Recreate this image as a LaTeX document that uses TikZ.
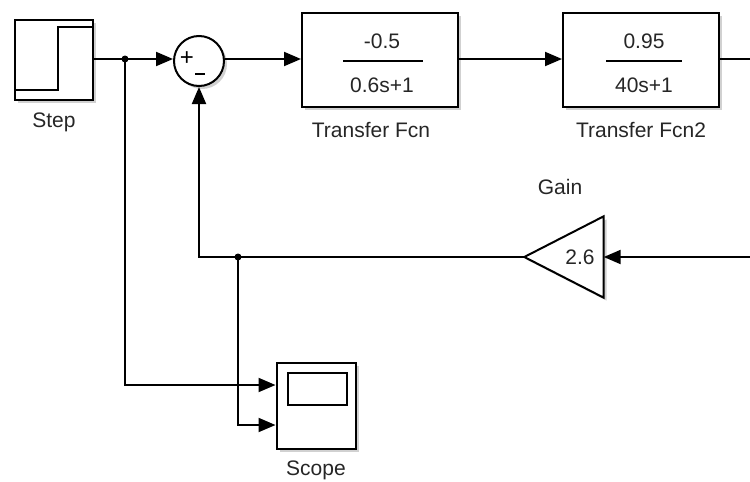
\documentclass[tikz,border=0pt]{standalone}
\usepackage{fontspec}
\setmainfont{Liberation Sans}
\usetikzlibrary{arrows.meta,shadows}
\begin{document}
\begin{tikzpicture}[x=1pt,y=-1pt,
  wire/.style={line width=2pt},
  sig/.style={wire,-{Triangle[length=17pt,width=14pt]}},
  blk/.style={draw,line width=2pt,fill=white,inner sep=0pt,
    drop shadow={shadow xshift=3pt,shadow yshift=-3pt,fill=black!40,opacity=0.45}},
  lbl/.style={font=\fontsize{21}{24}\selectfont,text=black!85},
  dot/.style={circle,fill=black,inner sep=0pt,minimum size=7pt}]
\useasboundingbox (0,0) rectangle (750,482);
% blocks
\node[blk,minimum width=78pt,minimum height=80pt] (step) at (54,60) {};
\draw[line width=2pt] (16,90) -- (58,90) -- (58,27) -- (92,27);
\node[lbl] (steplbl) at (54,122) {Step};
\node[blk,circle,minimum size=50pt] (sum) at (199,61) {};
\node[font=\fontsize{24}{26}\selectfont] (plus) at (187,59) {+};
\draw[line width=1.8pt] (195,74) -- (205,74);
\node[blk,minimum width=156pt,minimum height=94pt] (tf1) at (380,60) {};
\node[lbl] (tf1n) at (382,41) {-0.5};
\draw[line width=1.6pt] (343,61) -- (423,61);
\node[lbl] (tf1d) at (382,85) {0.6s+1};
\node[lbl] (tf1lbl) at (371,130) {Transfer Fcn};
\node[blk,minimum width=156pt,minimum height=94pt] (tf2) at (641,60) {};
\node[lbl] (tf2n) at (644,41) {0.95};
\draw[line width=1.6pt] (606,61) -- (682,61);
\node[lbl] (tf2d) at (644,85) {40s+1};
\node[lbl] (tf2lbl) at (641,130) {Transfer Fcn2};
\node[minimum width=79pt,minimum height=81pt,inner sep=0pt] (gain) at (564,257) {};
\draw[line width=2pt,fill=white,drop shadow={shadow xshift=3pt,shadow yshift=-3pt,fill=black!40,opacity=0.45}]
  (gain.north east) -- (gain.west) -- (gain.south east) -- cycle;
\node[lbl] (gainval) at (580,257) {2.6};
\node[lbl] (gainlbl) at (560,187) {Gain};
\node[blk,minimum width=79pt,minimum height=86pt] (scope) at (316,406) {};
\draw[line width=2pt] (288,373) rectangle (347,405);
\node[lbl] (scopelbl) at (316,470) {Scope};
% coordinates
\coordinate (b1) at (125,59);
\coordinate (b2) at (238,257);
\coordinate (r1) at (752,59);
\coordinate (r2) at (752,257);
\coordinate (sc1) at (scope.west |- 0,385);
\coordinate (sc2) at (scope.west |- 0,425);
% connectors
\draw[sig] (step.east |- b1) -- (sum.west |- b1);
\draw[sig] (sum.east |- b1) -- (tf1.west |- b1);
\draw[sig] (tf1.east |- b1) -- (tf2.west |- b1);
\draw[wire] (tf2.east |- b1) -- (r1);
\draw[sig] (r2) -- (gain.east);
\draw[sig] (gain.west) -- (sum.south |- b2) -- (sum.south);
\draw[sig] (b1) -- (b1 |- sc1) -- (sc1);
\draw[sig] (b2) -- (b2 |- sc2) -- (sc2);
\node[dot] (d1) at (b1) {};
\node[dot] (d2) at (b2) {};
\end{tikzpicture}
\end{document}
